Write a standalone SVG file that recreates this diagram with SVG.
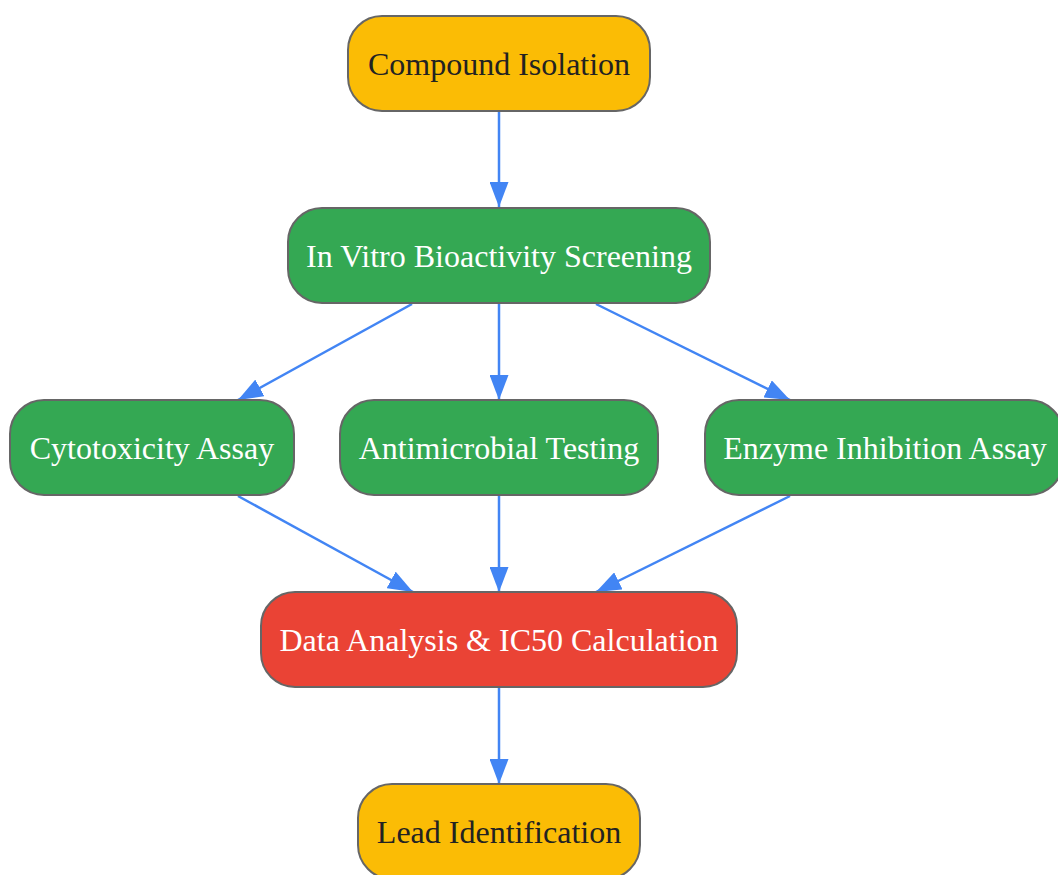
<svg xmlns="http://www.w3.org/2000/svg" width="1058" height="875" viewBox="0 0 1058 875">
<defs>
<style>
.n rect{stroke:#666;stroke-width:2}
.y rect{fill:#FBBC05}
.g rect{fill:#34A853}
.r rect{fill:#EA4335}
.n text{font-family:"Liberation Serif",serif;font-size:32px;text-anchor:middle;dominant-baseline:central}
.y text{fill:#222}
.g text,.r text{fill:#fff}
.e path{fill:none;stroke:#4285F4;stroke-width:2.5;marker-end:url(#ah)}
</style>
<marker id="ah" viewBox="0 0 25 19" refX="25" refY="9.5" markerWidth="25" markerHeight="19" markerUnits="userSpaceOnUse" orient="auto">
<path d="M0,0 L25,9.5 L0,19 z" fill="#4285F4"/>
</marker>
</defs>
<rect width="1058" height="875" fill="#fff"/>
<g class="e">
<path d="M499,111 L499,207"/>
<path d="M412,304 L238,400"/>
<path d="M499,304 L499,400"/>
<path d="M596,304 L790,400"/>
<path d="M238,496 L413,592"/>
<path d="M499,496 L499,592"/>
<path d="M790,496 L596,592"/>
<path d="M499,688 L499,784"/>
</g>
<g id="compound" class="n y"><rect x="348" y="16" width="302" height="95" rx="34"/><text x="499" y="64">Compound Isolation</text></g>
<g id="invitro" class="n g"><rect x="288" y="208" width="422" height="95" rx="34"/><text x="499" y="256">In Vitro Bioactivity Screening</text></g>
<g id="cyto" class="n g"><rect x="10" y="400" width="284" height="95" rx="34"/><text x="152" y="448">Cytotoxicity Assay</text></g>
<g id="anti" class="n g"><rect x="340" y="400" width="318" height="95" rx="34"/><text x="499" y="448">Antimicrobial Testing</text></g>
<g id="enzyme" class="n g"><rect x="705" y="400" width="358" height="95" rx="34"/><text x="885" y="448">Enzyme Inhibition Assay</text></g>
<g id="data" class="n r"><rect x="261" y="592" width="476" height="95" rx="34"/><text x="499" y="640">Data Analysis &amp; IC50 Calculation</text></g>
<g id="lead" class="n y"><rect x="358" y="784" width="282" height="95" rx="34"/><text x="499" y="832">Lead Identification</text></g>
</svg>
